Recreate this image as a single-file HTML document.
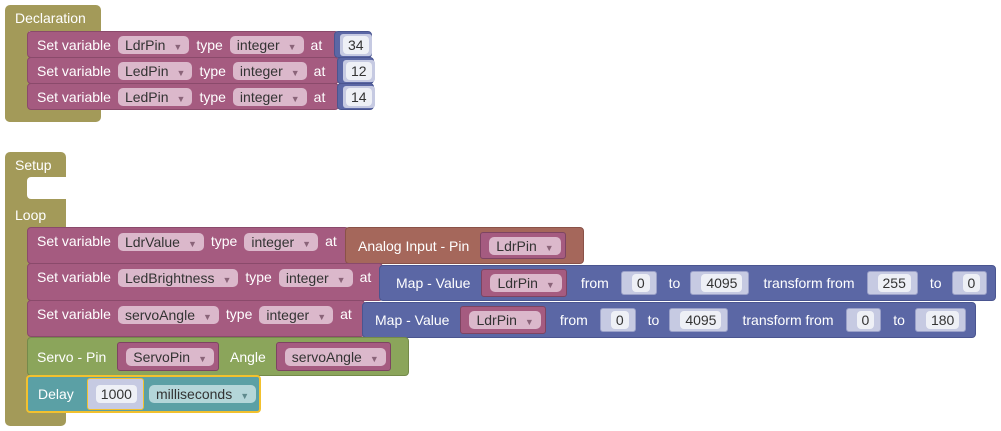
<!DOCTYPE html>
<html><head><meta charset="utf-8"><style>
body{margin:0;width:1001px;height:431px;background:#fff;position:relative;overflow:hidden;font-family:"Liberation Sans",Arial,sans-serif;font-size:14px;color:#fff}
.a{position:absolute}
.b{position:absolute;display:flex;align-items:center;box-sizing:border-box;white-space:nowrap;border-radius:4px}
.ol{background:#a39a59}
.pk{background:#a55b80;border:1px solid #8a4a6b}
.bl{background:#5b67a5;border:1px solid #4a5590}
.br{background:#a5675b;border:1px solid #8a5248}
.gr{background:#8ba55b;border:1px solid #748a4a}
.tl{background:#5ba0a5;border:1px solid #4a868a}
.dd{background:#dbb8cb;color:#333;border-radius:5px;padding:0 7px;height:18px;line-height:18px;display:inline-block}
.dd i{font-style:normal;font-size:9px;color:#8a6479;margin-left:8px}
.ddt{background:#b4d6d9;color:#333;border-radius:5px;padding:0 7px;height:18px;line-height:18px}
.ddt i{font-style:normal;font-size:9px;color:#5f8a8d;margin-left:8px}
.num{background:#c6cae2;border:1px solid #9aa0c8;border-radius:3px;height:26px;display:flex;align-items:center;padding:0 6px 0 10px;box-sizing:border-box}
.num span{background:#eef0f6;color:#333;border-radius:4px;padding:0 5px;height:18px;line-height:18px}
.vp{background:#a55b80;border:1px solid #7d4462;border-radius:3px;height:26px;display:flex;align-items:center;padding:0 4px 0 8px;box-sizing:border-box}
.m{margin-left:7px}
</style></head><body>

<!-- Declaration -->
<div class="a ol" style="left:5px;top:5px;width:96px;height:26px;border-radius:5px 5px 0 0"></div>
<div class="a ol" style="left:5px;top:28px;width:24px;height:94px;border-radius:0 0 0 5px"></div>
<div class="a ol" style="left:5px;top:108px;width:96px;height:14px;border-radius:0 0 5px 5px"></div>
<div class="a" style="left:15px;top:10px">Declaration</div>

<div class="b pk" style="left:27px;top:31px;width:312px;height:27px;padding-left:9px">Set variable<span class="dd m">LdrPin<i>▼</i></span><span class="m">type</span><span class="dd m">integer<i>▼</i></span><span class="m">at</span></div>
<div class="b bl" style="left:334px;top:31px;width:38px;height:27px;padding-left:5px"><span class="num" style="border:none;height:22px;padding:0 3px 0 3px"><span>34</span></span></div>
<div class="b pk" style="left:27px;top:57px;width:312px;height:27px;padding-left:9px">Set variable<span class="dd m">LedPin<i>▼</i></span><span class="m">type</span><span class="dd m">integer<i>▼</i></span><span class="m">at</span></div>
<div class="b bl" style="left:337px;top:57px;width:37px;height:27px;padding-left:5px"><span class="num" style="border:none;height:22px;padding:0 3px"><span>12</span></span></div>
<div class="b pk" style="left:27px;top:83px;width:312px;height:27px;padding-left:9px">Set variable<span class="dd m">LedPin<i>▼</i></span><span class="m">type</span><span class="dd m">integer<i>▼</i></span><span class="m">at</span></div>
<div class="b bl" style="left:337px;top:83px;width:37px;height:27px;padding-left:5px"><span class="num" style="border:none;height:22px;padding:0 3px"><span>14</span></span></div>

<!-- Setup / Loop -->
<div class="a ol" style="left:5px;top:152px;width:61px;height:274px;border-radius:5px"></div>
<div class="a" style="left:27px;top:177px;width:39px;height:22px;background:#fff;border-radius:4px 0 0 4px"></div>
<div class="a" style="left:66px;top:228px;width:10px;height:182px;background:#fff"></div>
<div class="a" style="left:15px;top:157px">Setup</div>
<div class="a" style="left:15px;top:207px">Loop</div>

<!-- Row1 -->
<div class="b pk" style="left:27px;top:227px;width:322px;height:37px;padding-left:9px;align-items:flex-start;padding-top:5px">Set variable<span class="dd m">LdrValue<i>▼</i></span><span class="m">type</span><span class="dd m">integer<i>▼</i></span><span class="m">at</span></div>
<div class="b br" style="left:345px;top:227px;width:239px;height:37px;padding-left:12px">Analog Input - Pin<span class="vp" style="margin-left:11px;height:27px"><span class="dd">LdrPin<i>▼</i></span></span></div>

<!-- Row2 -->
<div class="b pk" style="left:27px;top:263px;width:356px;height:38px;padding-left:9px;align-items:flex-start;padding-top:5px">Set variable<span class="dd m">LedBrightness<i>▼</i></span><span class="m">type</span><span class="dd m">integer<i>▼</i></span><span class="m">at</span></div>
<div class="b bl" style="left:379px;top:265px;width:617px;height:36px;padding-left:16px">Map - Value<span class="vp" style="margin-left:11px;height:28px"><span class="dd">LdrPin<i>▼</i></span></span><span style="margin-left:14px">from</span><span class="num" style="margin-left:12px;height:24px"><span>0</span></span><span style="margin-left:12px">to</span><span class="num" style="margin-left:10px;height:24px"><span>4095</span></span><span style="margin-left:14px">transform from</span><span class="num" style="margin-left:12px;height:24px"><span>255</span></span><span style="margin-left:12px">to</span><span class="num" style="margin-left:10px;height:24px"><span>0</span></span></div>

<!-- Row3 -->
<div class="b pk" style="left:27px;top:300px;width:338px;height:37px;padding-left:9px;align-items:flex-start;padding-top:5px">Set variable<span class="dd m">servoAngle<i>▼</i></span><span class="m">type</span><span class="dd m">integer<i>▼</i></span><span class="m">at</span></div>
<div class="b bl" style="left:362px;top:302px;width:614px;height:36px;padding-left:12px">Map - Value<span class="vp" style="margin-left:11px;height:28px"><span class="dd">LdrPin<i>▼</i></span></span><span style="margin-left:14px">from</span><span class="num" style="margin-left:12px;height:24px"><span>0</span></span><span style="margin-left:12px">to</span><span class="num" style="margin-left:10px;height:24px"><span>4095</span></span><span style="margin-left:14px">transform from</span><span class="num" style="margin-left:12px;height:24px"><span>0</span></span><span style="margin-left:12px">to</span><span class="num" style="margin-left:10px;height:24px"><span>180</span></span></div>

<!-- Row4 -->
<div class="b gr" style="left:27px;top:337px;width:382px;height:39px;padding-left:9px">Servo - Pin<span class="vp" style="margin-left:11px;height:29px"><span class="dd">ServoPin<i>▼</i></span></span><span style="margin-left:11px">Angle</span><span class="vp" style="margin-left:10px;height:29px"><span class="dd">servoAngle<i>▼</i></span></span></div>

<!-- Row5 -->
<div class="b tl" style="left:26px;top:375px;width:235px;height:38px;padding-left:10px;border:2px solid #f2c12e">Delay<span class="num" style="margin-left:13px;height:32px;border:1px solid #f2c12e;padding:0 6px 0 8px"><span>1000</span></span><span class="ddt" style="margin-left:5px">milliseconds<i>▼</i></span></div>

</body></html>
